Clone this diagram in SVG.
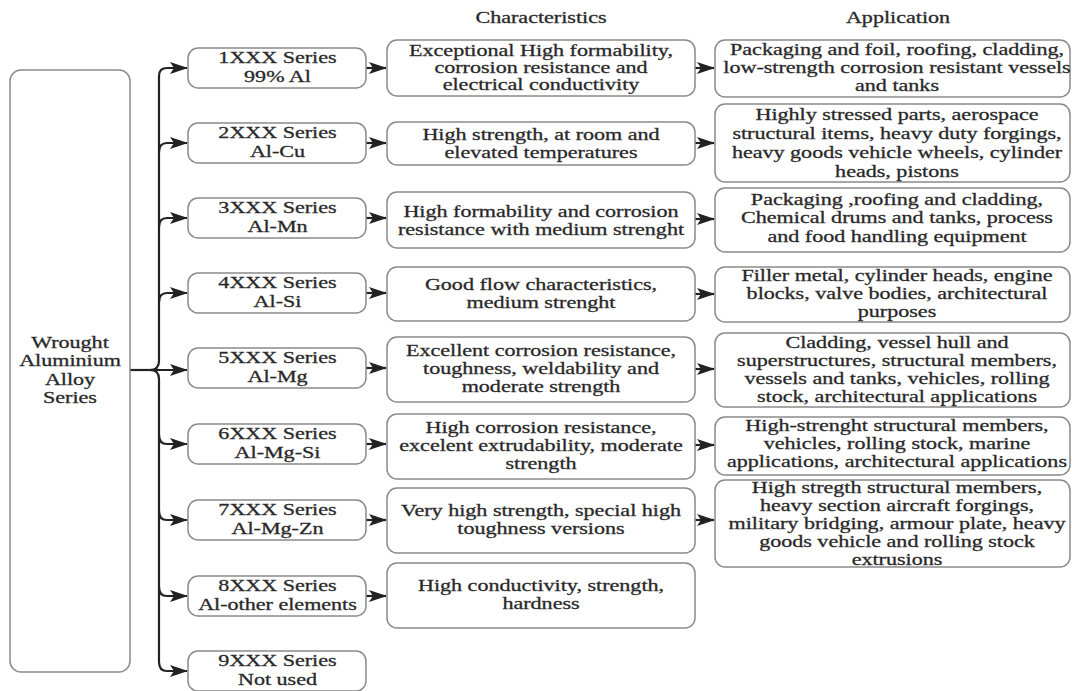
<svg xmlns="http://www.w3.org/2000/svg" width="1072" height="691" viewBox="0 0 1072 691">
<style>
.box{fill:#fff;stroke:#8a8a8a;stroke-width:1.5}
.t{font-family:"Liberation Serif","Times New Roman",serif;font-size:16px;fill:#262626;stroke:#333;stroke-width:0.3;text-anchor:middle}
.c{fill:none;stroke:#222;stroke-width:2.2}
.a{fill:none;stroke:#222;stroke-width:2.2;marker-end:url(#ah)}
</style>
<defs>
<marker id="ah" markerUnits="userSpaceOnUse" markerWidth="20" markerHeight="14" refX="0" refY="0" viewBox="-18 -7 20 14" orient="auto" overflow="visible">
<path d="M1,0 L-17,-6 L-13,0 L-17,6 Z" fill="#222"/>
</marker>
</defs>
<rect width="1072" height="691" fill="#fff"/>

<g id="headers">
<text class="t" transform="translate(541,0) scale(1.38,1)"><tspan x="0" y="23">Characteristics</tspan></text>
<text class="t" transform="translate(898,0) scale(1.38,1)"><tspan x="0" y="23">Application</tspan></text>
</g>

<g id="connectors">
<path class="c" d="M130,370 H160"/>
<path class="a" d="M150,370 H187"/>
<path class="a" d="M150,370 Q159,370 159,361 V76 Q159,68 167,68 H187"/>
<path class="a" d="M150,370 Q159,370 159,379 V662 Q159,671 167,671 H187"/>
<path class="a" d="M159,152 Q159,143 167,143 H187"/>
<path class="a" d="M159,227 Q159,218 167,218 H187"/>
<path class="a" d="M159,302 Q159,293 167,293 H187"/>
<path class="a" d="M159,435 Q159,444 167,444 H187"/>
<path class="a" d="M159,511 Q159,520 167,520 H187"/>
<path class="a" d="M159,587 Q159,596 167,596 H187"/>
<path class="a" d="M366,68 H386"/>
<path class="a" d="M366,143 H386"/>
<path class="a" d="M366,218 H386"/>
<path class="a" d="M366,293 H386"/>
<path class="a" d="M366,368 H386"/>
<path class="a" d="M366,444 H386"/>
<path class="a" d="M366,520 H386"/>
<path class="a" d="M366,596 H386"/>
<path class="a" d="M695,68 H714"/>
<path class="a" d="M695,143 H714"/>
<path class="a" d="M695,219 H714"/>
<path class="a" d="M695,294 H714"/>
<path class="a" d="M695,369 H714"/>
<path class="a" d="M695,445 H714"/>
<path class="a" d="M695,520 H714"/>
</g>

<g id="root">
<rect class="box" x="10" y="70" width="120" height="602" rx="11"/>
<text class="t" transform="translate(70,0) scale(1.38,1)"><tspan x="0" y="348">Wrought</tspan><tspan x="0" y="366.3">Aluminium</tspan><tspan x="0" y="384.6">Alloy</tspan><tspan x="0" y="403">Series</tspan></text>
</g>

<g id="s1"><rect class="box" x="188" y="48" width="178" height="40" rx="10"/>
<text class="t" transform="translate(277.5,0) scale(1.38,1)"><tspan x="0" y="63.5">1XXX Series</tspan><tspan x="0" y="82.5">99% Al</tspan></text></g>
<g id="s2"><rect class="box" x="188" y="123" width="178" height="40" rx="10"/>
<text class="t" transform="translate(277.5,0) scale(1.38,1)"><tspan x="0" y="138.5">2XXX Series</tspan><tspan x="0" y="157.5">Al-Cu</tspan></text></g>
<g id="s3"><rect class="box" x="188" y="198" width="178" height="40" rx="10"/>
<text class="t" transform="translate(277.5,0) scale(1.38,1)"><tspan x="0" y="213.5">3XXX Series</tspan><tspan x="0" y="232.5">Al-Mn</tspan></text></g>
<g id="s4"><rect class="box" x="188" y="273" width="178" height="40" rx="10"/>
<text class="t" transform="translate(277.5,0) scale(1.38,1)"><tspan x="0" y="288.5">4XXX Series</tspan><tspan x="0" y="307.5">Al-Si</tspan></text></g>
<g id="s5"><rect class="box" x="188" y="348" width="178" height="40" rx="10"/>
<text class="t" transform="translate(277.5,0) scale(1.38,1)"><tspan x="0" y="363.5">5XXX Series</tspan><tspan x="0" y="382.5">Al-Mg</tspan></text></g>
<g id="s6"><rect class="box" x="188" y="424" width="178" height="40" rx="10"/>
<text class="t" transform="translate(277.5,0) scale(1.38,1)"><tspan x="0" y="439.5">6XXX Series</tspan><tspan x="0" y="458.5">Al-Mg-Si</tspan></text></g>
<g id="s7"><rect class="box" x="188" y="500" width="178" height="40" rx="10"/>
<text class="t" transform="translate(277.5,0) scale(1.38,1)"><tspan x="0" y="515.5">7XXX Series</tspan><tspan x="0" y="534.5">Al-Mg-Zn</tspan></text></g>
<g id="s8"><rect class="box" x="188" y="576" width="178" height="40" rx="10"/>
<text class="t" transform="translate(277.5,0) scale(1.38,1)"><tspan x="0" y="591.5">8XXX Series</tspan><tspan x="0" y="610.5">Al-other elements</tspan></text></g>
<g id="s9"><rect class="box" x="188" y="651" width="178" height="40" rx="10"/>
<text class="t" transform="translate(277.5,0) scale(1.38,1)"><tspan x="0" y="666.5">9XXX Series</tspan><tspan x="0" y="685.5">Not used</tspan></text></g>

<g id="c1"><rect class="box" x="387" y="40" width="308" height="56" rx="10"/>
<text class="t" transform="translate(541,0) scale(1.38,1)"><tspan x="0" y="56">Exceptional High formability,</tspan><tspan x="0" y="73">corrosion resistance and</tspan><tspan x="0" y="90">electrical conductivity</tspan></text></g>
<g id="c2"><rect class="box" x="387" y="122" width="308" height="43" rx="10"/>
<text class="t" transform="translate(541,0) scale(1.38,1)"><tspan x="0" y="140">High strength, at room and</tspan><tspan x="0" y="158">elevated temperatures</tspan></text></g>
<g id="c3"><rect class="box" x="387" y="192" width="308" height="56" rx="10"/>
<text class="t" transform="translate(541,0) scale(1.38,1)"><tspan x="0" y="217">High formability and corrosion</tspan><tspan x="0" y="235">resistance with medium strenght</tspan></text></g>
<g id="c4"><rect class="box" x="387" y="267" width="308" height="54" rx="10"/>
<text class="t" transform="translate(541,0) scale(1.38,1)"><tspan x="0" y="290">Good flow characteristics,</tspan><tspan x="0" y="308">medium strenght</tspan></text></g>
<g id="c5"><rect class="box" x="387" y="337" width="308" height="65" rx="10"/>
<text class="t" transform="translate(541,0) scale(1.38,1)"><tspan x="0" y="356.5">Excellent corrosion resistance,</tspan><tspan x="0" y="374.5">toughness, weldability and</tspan><tspan x="0" y="392.5">moderate strength</tspan></text></g>
<g id="c6"><rect class="box" x="387" y="414" width="308" height="65" rx="10"/>
<text class="t" transform="translate(541,0) scale(1.38,1)"><tspan x="0" y="433">High corrosion resistance,</tspan><tspan x="0" y="451">excelent extrudability, moderate</tspan><tspan x="0" y="469">strength</tspan></text></g>
<g id="c7"><rect class="box" x="387" y="488" width="308" height="65" rx="10"/>
<text class="t" transform="translate(541,0) scale(1.38,1)"><tspan x="0" y="516.5">Very high strength, special high</tspan><tspan x="0" y="534.5">toughness versions</tspan></text></g>
<g id="c8"><rect class="box" x="387" y="563" width="308" height="65" rx="10"/>
<text class="t" transform="translate(541,0) scale(1.38,1)"><tspan x="0" y="591.5">High conductivity, strength,</tspan><tspan x="0" y="609.5">hardness</tspan></text></g>

<g id="a1"><rect class="box" x="715" y="40" width="355" height="57" rx="10"/>
<text class="t" transform="translate(897,0) scale(1.38,1)"><tspan x="0" y="55">Packaging and foil, roofing, cladding,</tspan><tspan x="0" y="73">low-strength corrosion resistant vessels</tspan><tspan x="0" y="91">and tanks</tspan></text></g>
<g id="a2"><rect class="box" x="715" y="104" width="355" height="78" rx="10"/>
<text class="t" transform="translate(897,0) scale(1.38,1)"><tspan x="0" y="120.5">Highly stressed parts, aerospace</tspan><tspan x="0" y="139.5">structural items, heavy duty forgings,</tspan><tspan x="0" y="158.5">heavy goods vehicle wheels, cylinder</tspan><tspan x="0" y="177.5">heads, pistons</tspan></text></g>
<g id="a3"><rect class="box" x="715" y="188" width="355" height="64" rx="10"/>
<text class="t" transform="translate(897,0) scale(1.38,1)"><tspan x="0" y="205">Packaging ,roofing and cladding,</tspan><tspan x="0" y="223.5">Chemical drums and tanks, process</tspan><tspan x="0" y="242">and food handling equipment</tspan></text></g>
<g id="a4"><rect class="box" x="715" y="267" width="355" height="55" rx="10"/>
<text class="t" transform="translate(897,0) scale(1.38,1)"><tspan x="0" y="281">Filler metal, cylinder heads, engine</tspan><tspan x="0" y="299">blocks, valve bodies, architectural</tspan><tspan x="0" y="317">purposes</tspan></text></g>
<g id="a5"><rect class="box" x="715" y="333" width="355" height="74" rx="10"/>
<text class="t" transform="translate(897,0) scale(1.38,1)"><tspan x="0" y="348">Cladding, vessel hull and</tspan><tspan x="0" y="366">superstructures, structural members,</tspan><tspan x="0" y="384">vessels and tanks, vehicles, rolling</tspan><tspan x="0" y="402">stock, architectural applications</tspan></text></g>
<g id="a6"><rect class="box" x="715" y="417" width="355" height="58" rx="10"/>
<text class="t" transform="translate(897,0) scale(1.38,1)"><tspan x="0" y="431">High-strenght structural members,</tspan><tspan x="0" y="449">vehicles, rolling stock, marine</tspan><tspan x="0" y="467">applications, architectural applications</tspan></text></g>
<g id="a7"><rect class="box" x="715" y="480" width="355" height="87" rx="10"/>
<text class="t" transform="translate(897,0) scale(1.38,1)"><tspan x="0" y="493">High stregth structural members,</tspan><tspan x="0" y="511">heavy section aircraft forgings,</tspan><tspan x="0" y="529">military bridging, armour plate, heavy</tspan><tspan x="0" y="547">goods vehicle and rolling stock</tspan><tspan x="0" y="565">extrusions</tspan></text></g>
</svg>
